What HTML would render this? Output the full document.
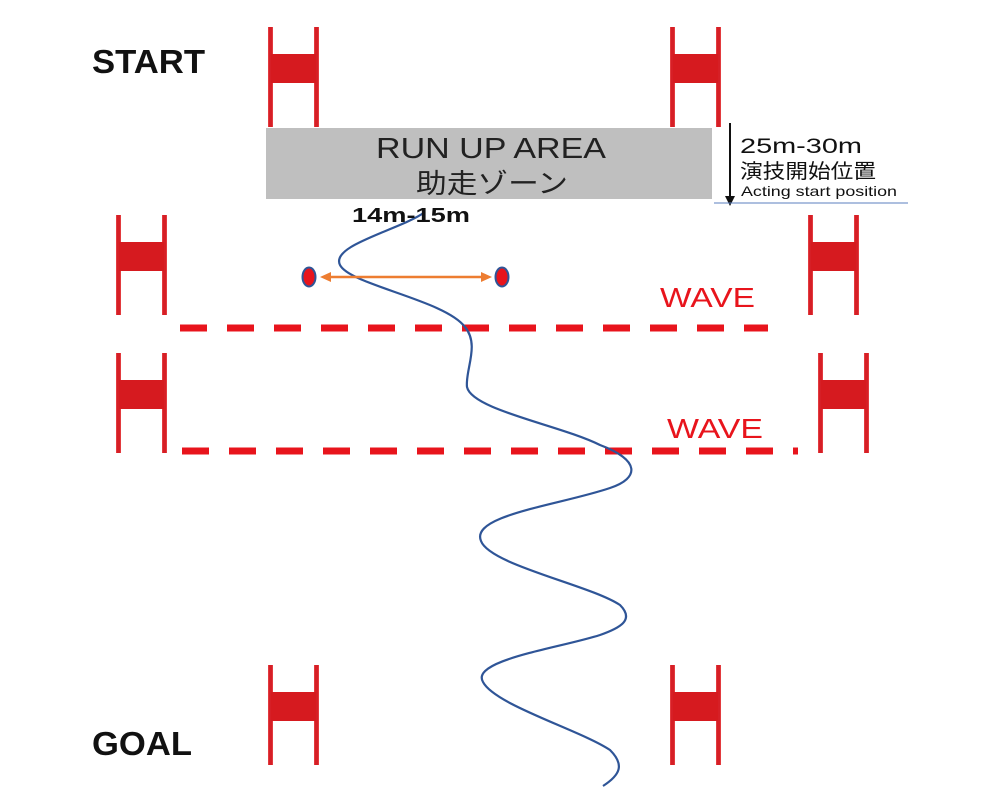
<!DOCTYPE html>
<html><head><meta charset="utf-8"><style>
html,body{margin:0;padding:0;background:#fff;}
svg{display:block}
</style></head><body>
<svg width="1000" height="800" viewBox="0 0 1000 800" xmlns="http://www.w3.org/2000/svg">
<defs>
<g id="gate">
  <rect x="0" y="0" width="5" height="100" fill="#e23a3e"/>
  <rect x="1" y="0" width="3" height="100" fill="#d61f26"/>
  <rect x="46" y="0" width="5" height="100" fill="#e23a3e"/>
  <rect x="47" y="0" width="3" height="100" fill="#d61f26"/>
  <rect x="3" y="27" width="45" height="29" fill="#d61a1f"/>
</g>
</defs>
<use href="#gate" x="268" y="27"/>
<use href="#gate" x="670" y="27"/>
<use href="#gate" x="116" y="215"/>
<use href="#gate" x="808" y="215"/>
<use href="#gate" x="116" y="353"/>
<use href="#gate" x="818" y="353"/>
<use href="#gate" x="268" y="665"/>
<use href="#gate" x="670" y="665"/>

<rect x="266" y="128" width="446" height="71" fill="#bfbfbf"/>
<text x="376" y="158" textLength="230" lengthAdjust="spacingAndGlyphs" font-family="Liberation Sans, sans-serif" font-size="29" fill="#222">RUN UP AREA</text>
<text x="416" y="193" textLength="152" lengthAdjust="spacingAndGlyphs" font-family="Liberation Sans, 'Noto Sans CJK JP', sans-serif" font-size="27" fill="#222">助走ゾーン</text>

<text x="92" y="73" textLength="113" lengthAdjust="spacingAndGlyphs" font-family="Liberation Sans, sans-serif" font-size="33" font-weight="bold" fill="#111">START</text>
<text x="92" y="755" textLength="100" lengthAdjust="spacingAndGlyphs" font-family="Liberation Sans, sans-serif" font-size="33" font-weight="bold" fill="#111">GOAL</text>

<line x1="730" y1="123" x2="730" y2="198" stroke="#111" stroke-width="2"/>
<polygon points="725,196 735,196 730,206" fill="#111"/>
<line x1="714" y1="203" x2="908" y2="203" stroke="#5b7fbf" stroke-width="1"/>
<text x="740" y="153" textLength="122" lengthAdjust="spacingAndGlyphs" font-family="Liberation Sans, sans-serif" font-size="21" fill="#111">25m-30m</text>
<text x="740" y="178" textLength="136" lengthAdjust="spacingAndGlyphs" font-family="Liberation Sans, 'Noto Sans CJK JP', sans-serif" font-size="20" fill="#111">演技開始位置</text>
<text x="741" y="196" textLength="156" lengthAdjust="spacingAndGlyphs" font-family="Liberation Sans, sans-serif" font-size="14" fill="#111">Acting start position</text>

<line x1="180" y1="328" x2="768" y2="328" stroke="#e8141c" stroke-width="7" stroke-dasharray="27 20"/>
<line x1="182" y1="451" x2="798" y2="451" stroke="#e8141c" stroke-width="7" stroke-dasharray="27 20"/>
<text x="660" y="307" textLength="95" lengthAdjust="spacingAndGlyphs" font-family="Liberation Sans, sans-serif" font-size="28" fill="#e8141c">WAVE</text>
<text x="667" y="438" textLength="96" lengthAdjust="spacingAndGlyphs" font-family="Liberation Sans, sans-serif" font-size="28" fill="#e8141c">WAVE</text>

<path d="M425,212 C400,230 330,245 340,265 C350,285 445,300 465,327 C480,345 465,370 467,387 C472,410 560,425 600,445 C640,460 640,478 610,488 C560,505 470,515 481,541 C490,565 590,585 620,605 C635,620 620,628 600,635 C560,648 470,660 483,682 C495,705 580,730 610,750 C625,765 620,775 603,786"
 fill="none" stroke="#2f5597" stroke-width="2.2"/>

<text x="352" y="222" textLength="118" lengthAdjust="spacingAndGlyphs" font-family="Liberation Sans, sans-serif" font-size="20" font-weight="bold" fill="#111">14m-15m</text>

<line x1="328" y1="277" x2="484" y2="277" stroke="#ed7d31" stroke-width="2.5"/>
<polygon points="320,277 331,272 331,282" fill="#ed7d31"/>
<polygon points="492,277 481,272 481,282" fill="#ed7d31"/>
<ellipse cx="309" cy="277" rx="6.5" ry="9.5" fill="#e8141c" stroke="#2f5597" stroke-width="2"/>
<ellipse cx="502" cy="277" rx="6.5" ry="9.5" fill="#e8141c" stroke="#2f5597" stroke-width="2"/>
</svg>
</body></html>
